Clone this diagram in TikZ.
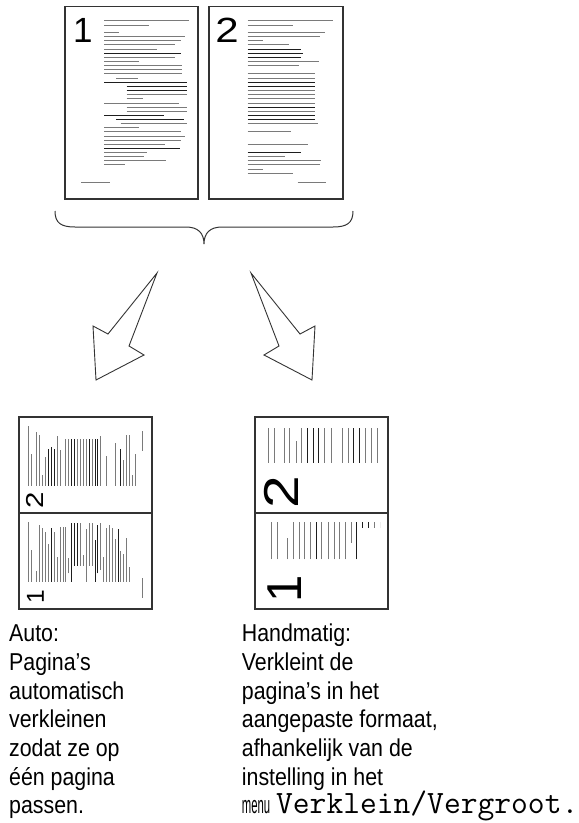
\documentclass[tikz,border=0pt]{standalone}
\usepackage{fontspec}
\usepackage{graphicx}
\setmainfont[FakeStretch=0.875]{Liberation Sans}
\newfontfamily\digitfont{Liberation Sans}
\definecolor{lg}{HTML}{7A7A7A}
\definecolor{lk}{HTML}{1E1E1E}
\definecolor{framec}{HTML}{333333}

\tikzset{
  pagebox/.style={draw=framec, line width=1.3pt},
  arrowshape/.style={draw=framec, line width=0.9pt, line join=miter},
  bracepath/.style={draw=framec, line width=1pt},
  digitnode/.style={anchor=base west, inner sep=0pt, transform shape,
    font=\digitfont\fontsize{105}{105}\selectfont},
  desc/.style={anchor=base west, align=left, inner sep=0pt,
    font=\fontsize{24.4}{28.7}\selectfont},
}

\newcommand{\pageonelines}[1]{%
  \foreach \a/\b/\y/\c in {117/373/42/lg, 117/253/55/lg, 117/163/77/lg, 117/360/89/lg,
    117/348/102/lg, 117/330/114/lg, 117/277/127/lg, 117/349/139/lk, 117/330/151/lg,
    117/223/164/lg, 117/350/177/lg, 117/350/189/lg, 117/350/201/lg, 153/218/214/lg,
    117/367/226/lk, 185/367/238/lk, 185/367/251/lk, 185/367/263/lg, 185/233/276/lg,
    117/342/289/lg, 185/367/301/lg, 185/367/314/lg, 117/297/326/lk, 153/358/338/lk,
    167/367/350/lg, 117/223/363/lg, 117/349/375/lg, 117/360/388/lg, 117/348/400/lg,
    117/300/412/lg, 117/345/425/lk, 117/247/437/lg, 117/237/449/lg, 117/303/462/lg,
    117/180/474/lg, 48/135/528/lg}
  {\draw[color=\c, line width=1pt] (\a,\y) -- (\b,\y);}
  \node[digitnode] (#1) at (24,107) {1};
}

\newcommand{\pagetwolines}[1]{%
  \foreach \a/\b/\y/\c in {116/371/42/lg, 116/251/55/lg, 116/348/77/lg, 116/333/89/lg,
    116/163/102/lg, 116/241/114/lg, 116/275/127/lk, 116/281/139/lk, 116/275/151/lk,
    116/331/164/lg, 116/271/177/lg, 116/318/201/lg, 116/318/214/lg, 116/318/226/lk,
    116/318/238/lk, 116/318/251/lg, 116/318/263/lg, 116/318/276/lg, 116/318/289/lg,
    116/318/301/lk, 116/318/314/lg, 116/318/326/lk, 116/318/338/lk, 116/328/350/lg,
    116/245/375/lg, 116/298/412/lg, 116/275/437/lk, 116/228/449/lg, 116/335/462/lg,
    116/333/474/lg, 116/161/487/lg, 116/251/499/lg, 266/351/528/lg}
  {\draw[color=\c, line width=1pt] (\a,\y) -- (\b,\y);}
  \node[digitnode, xscale=1.2] (#1) at (19,107) {2};
}

\begin{document}
\begin{tikzpicture}[x=1pt, y=-1pt]
\useasboundingbox (0,0) rectangle (579,823);

% original pages
\draw[pagebox] (65,6.7) rectangle (198,199);
\draw[pagebox] (209,6.7) rectangle (343,199);
\begin{scope}[shift={(65,6.67)}, scale=1/3]
  \pageonelines{pOneDigit}
\end{scope}
\begin{scope}[shift={(209,6.67)}, scale=1/3]
  \pagetwolines{pTwoDigit}
\end{scope}

% brace
\draw[bracepath] (55,211) .. controls (55,223) and (61,227) .. (75,227) -- (186,227)
  .. controls (198,227) and (204,233) .. (204,244)
  .. controls (204,233) and (210,227) .. (222,227) -- (333,227)
  .. controls (347,227) and (353,223) .. (353,211);

% arrows
\draw[arrowshape] (157,273) -- (108,334) -- (93,326) -- (96,380) -- (144,355) -- (129,346) -- cycle;
\draw[arrowshape] (251,273) -- (300,334) -- (315,326) -- (312,380) -- (264,355) -- (279,346) -- cycle;

% Auto mini page
\draw[pagebox] (19,417) rectangle (152,609);
\draw[pagebox] (19,513) -- (152,513);
\begin{scope}[shift={(19,513)}, rotate=90, scale=0.7/3]
  \pagetwolines{aTwoDigit}
\end{scope}
\begin{scope}[shift={(19,609)}, rotate=90, scale=0.7/3]
  \pageonelines{aOneDigit}
\end{scope}

% Manual mini page
\begin{scope}
  \clip (255,428) rectangle (380,513);
  \begin{scope}[shift={(248.4,517)}, rotate=90, scale=1.4/3]
    \pagetwolines{mTwoDigit}
  \end{scope}
\end{scope}
\begin{scope}
  \clip (255,522) rectangle (380,609);
  \begin{scope}[shift={(251.5,614)}, rotate=90, scale=1.4/3]
    \pageonelines{mOneDigit}
  \end{scope}
\end{scope}
\draw[pagebox] (255,417) rectangle (388,609);
\draw[pagebox] (255,513) -- (388,513);

% captions (base anchor = baseline of the last line)
\node[desc] (autotext) at (9,813.9) {Auto:\\Pagina’s\\automatisch\\verkleinen\\zodat ze op\\één pagina\\passen.};
\node[desc] (handtext) at (241.7,813.9) {Handmatig:\\Verkleint de\\pagina’s in het\\aangepaste formaat,\\afhankelijk van de\\instelling in het\\\scalebox{0.53}[1]{menu} {\ttfamily\fontsize{32.6}{28.7}\selectfont Verklein/Vergroot.}};
\end{tikzpicture}
\end{document}
